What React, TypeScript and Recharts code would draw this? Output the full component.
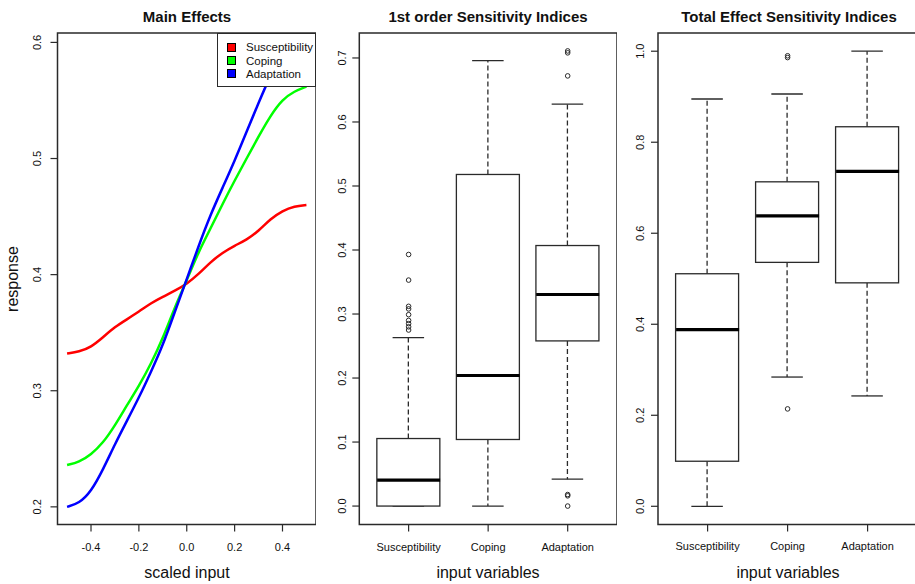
import React from 'react';
import {
  ComposedChart, LineChart, Line, Bar, Scatter, XAxis, YAxis, ReferenceArea, Legend,
} from 'recharts';

// ---------- Data ----------
const scaledInput = [-0.5, -0.45, -0.4, -0.35, -0.3, -0.25, -0.2, -0.15, -0.1, -0.05, 0, 0.05, 0.1, 0.15, 0.2, 0.25, 0.3, 0.35, 0.4, 0.45, 0.5];
const susceptibilityEffect = [0.332, 0.3336, 0.3375, 0.346, 0.355, 0.3615, 0.368, 0.3755, 0.381, 0.386, 0.392, 0.4005, 0.411, 0.419, 0.425, 0.43, 0.4375, 0.448, 0.455, 0.459, 0.46];
const copingEffect = [0.236, 0.2385, 0.245, 0.255, 0.27, 0.2875, 0.304, 0.323, 0.345, 0.372, 0.395, 0.42, 0.44, 0.461, 0.481, 0.5, 0.519, 0.537, 0.551, 0.558, 0.562];
const adaptationEffect = [0.2, 0.203, 0.213, 0.232, 0.254, 0.274, 0.294, 0.316, 0.339, 0.368, 0.396, 0.425, 0.452, 0.475, 0.498, 0.523, 0.548, 0.572, 0.59, 0.6, 0.605];

const categories = ['Susceptibility', 'Coping', 'Adaptation'];
const lineColors = ['#ff0000', '#00ff00', '#0000ff'];

// 1st order sensitivity indices (boxplot stats)
const fo_lower = [0, 0, 0.042];
const fo_q1 = [0, 0.104, 0.258];
const fo_median = [0.0405, 0.204, 0.3305];
const fo_q3 = [0.1055, 0.518, 0.407];
const fo_upper = [0.263, 0.696, 0.628];
const fo_outliers: [number, number[]][] = [
  [1, [0.393, 0.353, 0.312, 0.308, 0.299, 0.29, 0.285, 0.28, 0.275]],
  [3, [0.711, 0.708, 0.672, 0.018, 0.016, 0.0]],
];

// Total effect sensitivity indices (boxplot stats)
const te_lower = [0, 0.284, 0.2425];
const te_q1 = [0.099, 0.536, 0.491];
const te_median = [0.388, 0.638, 0.736];
const te_q3 = [0.511, 0.713, 0.834];
const te_upper = [0.895, 0.906, 1.0];
const te_outliers: [number, number[]][] = [
  [2, [0.99, 0.986, 0.214]],
];

const lineTicksX = [-0.4, -0.2, 0, 0.2, 0.4];
const lineTicksY = [0.2, 0.3, 0.4, 0.5, 0.6];
const foTicksY = [0, 0.1, 0.2, 0.3, 0.4, 0.5, 0.6, 0.7];
const teTicksY = [0, 0.2, 0.4, 0.6, 0.8, 1.0];

// ---------- Styles ----------
const FONT = '"Liberation Sans", Arial, Helvetica, sans-serif';
const INK = '#111';
const FRAME = '#2a2a2a';
const BOX_W = 63;

const lineData = scaledInput.map((x, i) => ({
  x,
  Susceptibility: susceptibilityEffect[i],
  Coping: copingEffect[i],
  Adaptation: adaptationEffect[i],
}));

function boxRows(lower: number[], q1: number[], med: number[], q3: number[], upper: number[]) {
  return categories.map((c, i) => ({
    x: i + 1,
    name: c,
    base: lower[i],
    wLow: q1[i] - lower[i],
    box: q3[i] - q1[i],
    wHigh: upper[i] - q3[i],
    med: med[i],
  }));
}

function outlierRows(list: [number, number[]][]) {
  const rows: { x: number; y: number }[] = [];
  list.forEach(([x, ys]) => ys.forEach((y) => rows.push({ x, y })));
  return rows;
}

const fmt1 = (v: number) => v.toFixed(1);

const makeYTick = (offset: number) => (props: any) => {
  const { x, y, payload } = props;
  const cx = x - offset;
  return (
    <text
      x={cx}
      y={y}
      transform={`rotate(-90, ${cx}, ${y})`}
      textAnchor="middle"
      dominantBaseline="central"
      fontFamily={FONT}
      fontSize={11}
      fill={INK}
    >
      {fmt1(payload.value)}
    </text>
  );
};

const NumXTick = (props: any) => {
  const { x, y, payload } = props;
  return (
    <text x={x} y={y + 19} textAnchor="middle" fontFamily={FONT} fontSize={11} fill={INK}>
      {fmt1(payload.value)}
    </text>
  );
};

const CatXTick = (props: any) => {
  const { x, y, payload } = props;
  return (
    <text x={x} y={y + 19} textAnchor="middle" fontFamily={FONT} fontSize={11} fill={INK}>
      {categories[Math.round(payload.value) - 1]}
    </text>
  );
};

const UpperWhisker = (props: any) => {
  const { x, y, width, height } = props;
  const cx = x + width / 2;
  return (
    <g>
      <line x1={cx} x2={cx} y1={y + height} y2={y} stroke={FRAME} strokeWidth={1.3} strokeDasharray="5 3" />
      <line x1={cx - width / 4} x2={cx + width / 4} y1={y} y2={y} stroke={FRAME} strokeWidth={1.3} />
    </g>
  );
};

const LowerWhisker = (props: any) => {
  const { x, y, width, height } = props;
  const cx = x + width / 2;
  return (
    <g>
      <line x1={cx} x2={cx} y1={y} y2={y + height} stroke={FRAME} strokeWidth={1.3} strokeDasharray="5 3" />
      <line x1={cx - width / 4} x2={cx + width / 4} y1={y + height} y2={y + height} stroke={FRAME} strokeWidth={1.3} />
    </g>
  );
};

const BoxShape = (props: any) => {
  const { x, y, width, height } = props;
  return <rect x={x} y={y} width={width} height={height} fill="#fff" stroke={FRAME} strokeWidth={1.3} />;
};

const Empty = () => <g />;

const MedianShape = (props: any) => {
  const { cx, cy } = props;
  return <line x1={cx - BOX_W / 2} x2={cx + BOX_W / 2} y1={cy} y2={cy} stroke="#000" strokeWidth={3.2} />;
};

const OutlierShape = (props: any) => {
  const { cx, cy } = props;
  return <circle cx={cx} cy={cy} r={2.3} fill="none" stroke={FRAME} strokeWidth={1} />;
};

const LegendContent = (props: any) => {
  const payload: any[] = props.payload || [];
  const ordered = categories
    .map((c) => payload.find((p) => p.value === c || p.dataKey === c))
    .filter(Boolean);
  return (
    <div
      style={{
        width: 99,
        height: 54,
        background: '#fff',
        border: `1px solid ${FRAME}`,
        boxSizing: 'border-box',
        paddingTop: 6.5,
        fontFamily: FONT,
        fontSize: 11.5,
        color: INK,
      }}
    >
      {ordered.map((p: any) => (
        <div key={p.value} style={{ display: 'flex', alignItems: 'center', height: 13.4 }}>
          <span
            style={{
              display: 'inline-block',
              width: 9,
              height: 9,
              background: p.color,
              border: '1px solid #000',
              boxSizing: 'border-box',
              marginLeft: 9,
              marginRight: 10,
            }}
          />
          <span>{p.value}</span>
        </div>
      ))}
    </div>
  );
};

const textStyle: React.CSSProperties = {
  position: 'absolute',
  fontFamily: FONT,
  color: INK,
  whiteSpace: 'nowrap',
  transform: 'translate(-50%, -50%)',
  lineHeight: 1,
};

function BoxPanel(props: {
  left: number;
  yAxisW: number;
  width: number;
  rows: any[];
  outliers: { x: number; y: number }[];
  domainY: [number, number];
  ticksY: number[];
  tickOffset: number;
}) {
  const { left, yAxisW, width, rows, outliers, domainY, ticksY, tickOffset } = props;
  return (
    <div style={{ position: 'absolute', left, top: 0 }}>
      <ComposedChart
        width={width}
        height={584}
        data={rows}
        margin={{ top: 33, right: 0, bottom: 0, left: 0 }}
      >
        <XAxis
          dataKey="x"
          type="number"
          domain={[0.38, 3.62]}
          ticks={[1, 2, 3]}
          allowDataOverflow
          height={59.5}
          axisLine={false}
          tickLine={{ stroke: FRAME, strokeWidth: 1.2 }}
          tickSize={7}
          tickMargin={0}
          tick={CatXTick}
          interval={0}
        />
        <YAxis
          type="number"
          domain={domainY}
          ticks={ticksY}
          allowDataOverflow
          width={yAxisW}
          axisLine={false}
          tickLine={{ stroke: FRAME, strokeWidth: 1.2 }}
          tickSize={7}
          tickMargin={0}
          tick={makeYTick(tickOffset)}
          interval={0}
        />
        <ReferenceArea
          x1={0.38}
          x2={3.62}
          y1={domainY[0]}
          y2={domainY[1]}
          fill="none"
          fillOpacity={0}
          stroke={FRAME}
          strokeWidth={1.5}
          ifOverflow="visible"
        />
        <Bar dataKey="base" stackId="s" barSize={BOX_W} shape={<Empty />} isAnimationActive={false} />
        <Bar dataKey="wLow" stackId="s" barSize={BOX_W} shape={<LowerWhisker />} isAnimationActive={false} />
        <Bar dataKey="box" stackId="s" barSize={BOX_W} shape={<BoxShape />} isAnimationActive={false} />
        <Bar dataKey="wHigh" stackId="s" barSize={BOX_W} shape={<UpperWhisker />} isAnimationActive={false} />
        <Scatter dataKey="med" shape={<MedianShape />} isAnimationActive={false} />
        <Scatter data={outliers} dataKey="y" shape={<OutlierShape />} isAnimationActive={false} />
      </ComposedChart>
    </div>
  );
}

export default function App() {
  const foRows = boxRows(fo_lower, fo_q1, fo_median, fo_q3, fo_upper);
  const teRows = boxRows(te_lower, te_q1, te_median, te_q3, te_upper);
  return (
    <div
      style={{
        position: 'absolute',
        left: 0,
        top: 0,
        width: 915,
        height: 584,
        overflow: 'hidden',
        background: '#fff',
      }}
    >
      {/* Panel 1: Main effects */}
      <div style={{ position: 'absolute', left: 0, top: 0 }}>
        <LineChart
          width={316}
          height={584}
          data={lineData}
          margin={{ top: 33, right: 0, bottom: 0, left: 0 }}
        >
          <XAxis
            dataKey="x"
            type="number"
            domain={[-0.54, 0.54]}
            ticks={lineTicksX}
            allowDataOverflow
            height={59.5}
            axisLine={false}
            tickLine={{ stroke: FRAME, strokeWidth: 1.2 }}
            tickSize={7}
            tickMargin={0}
            tick={NumXTick}
            interval={0}
          />
          <YAxis
            type="number"
            domain={[0.1848, 0.6081]}
            ticks={lineTicksY}
            allowDataOverflow
            width={57.5}
            axisLine={false}
            tickLine={{ stroke: FRAME, strokeWidth: 1.2 }}
            tickSize={7}
            tickMargin={0}
            tick={makeYTick(13)}
            interval={0}
          />
          <ReferenceArea
            x1={-0.54}
            x2={0.54}
            y1={0.1848}
            y2={0.6081}
            fill="none"
            fillOpacity={0}
            stroke={FRAME}
            strokeWidth={1.5}
            ifOverflow="visible"
          />
          <Line type="basis" dataKey="Susceptibility" stroke={lineColors[0]} strokeWidth={2.5} dot={false} isAnimationActive={false} />
          <Line type="basis" dataKey="Coping" stroke={lineColors[1]} strokeWidth={2.5} dot={false} isAnimationActive={false} />
          <Line type="basis" dataKey="Adaptation" stroke={lineColors[2]} strokeWidth={2.5} dot={false} isAnimationActive={false} />
          <Legend
            layout="vertical"
            align="center"
            verticalAlign="middle"
            content={<LegendContent />}
            wrapperStyle={{ left: 217, top: 33, width: 99, height: 54 }}
          />
        </LineChart>
      </div>

      <BoxPanel
        left={317}
        yAxisW={42.3}
        width={300}
        rows={foRows}
        outliers={outlierRows(fo_outliers)}
        domainY={[-0.0288, 0.739]}
        ticksY={foTicksY}
        tickOffset={10.6}
      />
      <BoxPanel
        left={620}
        yAxisW={38}
        width={297.2}
        rows={teRows}
        outliers={outlierRows(te_outliers)}
        domainY={[-0.04, 1.04]}
        ticksY={teTicksY}
        tickOffset={11}
      />

      {/* Titles */}
      <div style={{ ...textStyle, left: 187, top: 16, fontSize: 15, fontWeight: 'bold' }}>Main Effects</div>
      <div style={{ ...textStyle, left: 488, top: 16, fontSize: 15, fontWeight: 'bold' }}>1st order Sensitivity Indices</div>
      <div style={{ ...textStyle, left: 789, top: 16, fontSize: 15, fontWeight: 'bold' }}>Total Effect Sensitivity Indices</div>

      {/* Axis titles */}
      <div style={{ ...textStyle, left: 187, top: 573, fontSize: 16 }}>scaled input</div>
      <div style={{ ...textStyle, left: 488, top: 573, fontSize: 16 }}>input variables</div>
      <div style={{ ...textStyle, left: 788, top: 573, fontSize: 16 }}>input variables</div>
      <div style={{ ...textStyle, left: 13, top: 279, fontSize: 16, transform: 'translate(-50%, -50%) rotate(-90deg)' }}>response</div>
    </div>
  );
}
